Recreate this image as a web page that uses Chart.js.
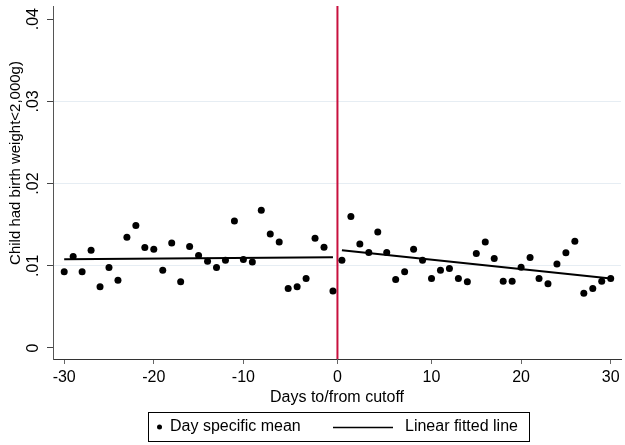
<!DOCTYPE html>
<html>
<head>
<meta charset="utf-8">
<script src="https://cdn.jsdelivr.net/npm/chart.js@4"></script>
<style>
  html, body { margin: 0; padding: 0; background: #fff; }
</style>
</head>
<body>
<canvas id="rd" width="625" height="445"></canvas>
<script>
/* birth weight around the cutoff — day means with linear fits on each side */

const daysBefore = [-30, -29, -28, -27, -26, -25, -24, -23, -22, -21, -20, -19, -18, -17, -16, -15,
  -14, -13, -12, -11, -10, -9, -8, -7, -6, -5, -4, -3, -2, -1, 0];
const meanBefore = [0.00926, 0.01113, 0.00926, 0.0119, 0.00744, 0.0098, 0.00825, 0.01347, 0.0149,
  0.01222, 0.0120, 0.00947, 0.01278, 0.00805, 0.01234, 0.01125, 0.01056, 0.0098, 0.01068, 0.01545,
  0.01076, 0.01047, 0.01675, 0.01387, 0.0129, 0.00724, 0.00744, 0.00846, 0.01335, 0.01226, 0.00693];

const daysAfter = [0, 1, 2, 3, 4, 5, 6, 7, 8, 9, 10, 11, 12, 13, 14, 15, 16, 17, 18, 19, 20,
  21, 22, 23, 24, 25, 26, 27, 28, 29, 30];
const meanAfter = [0.01068, 0.0160, 0.01265, 0.01161, 0.01411, 0.01161, 0.00834, 0.00926, 0.0120,
  0.01068, 0.00846, 0.00947, 0.00967, 0.00846, 0.00805, 0.01149, 0.0129, 0.01089, 0.00813, 0.00813,
  0.00983, 0.0110, 0.00846, 0.0078, 0.01023, 0.01157, 0.01299, 0.00667, 0.00724, 0.00813, 0.00846];

// fitted line end points, one segment per side
const fitDaysBefore = [-30, 0];
const fitBefore = [0.01078, 0.01104];
const fitDaysAfter = [0, 30];
const fitAfter = [0.0119, 0.00846];

const xTickDays = [-30, -20, -10, 0, 10, 20, 30];
const yTicks = [0, 0.01, 0.02, 0.03, 0.04];
const cutoffDay = 0;

const FONT = "'Liberation Sans', Arial, sans-serif";

// each side sits half a day off the cutoff
function pos(day, side) {
  return side < 0 ? day - 0.5 : day + 0.5;
}
function tickPos(day) {
  return day === 0 ? 0 : pos(day, Math.sign(day));
}
function yLabel(v) {
  return v === 0 ? '0' : v.toFixed(2).replace(/^0/, '');
}

const framePlugin = {
  id: 'frame',
  beforeDatasetsDraw(chart) {
    const ctx = chart.ctx;
    const area = chart.chartArea;
    const x = chart.scales.x.getPixelForValue(cutoffDay);
    ctx.save();
    ctx.strokeStyle = '#c8103e';
    ctx.lineWidth = 2;
    ctx.beginPath();
    ctx.moveTo(x, area.top);
    ctx.lineTo(x, area.bottom);
    ctx.stroke();
    ctx.restore();
  },
  afterDraw(chart) {
    const ctx = chart.ctx;
    const ys = chart.scales.y;
    ctx.save();
    ctx.fillStyle = '#000';
    ctx.font = '16px ' + FONT;
    ctx.textAlign = 'center';
    ctx.textBaseline = 'middle';

    // vertical y tick labels
    yTicks.forEach(function(v) {
      ctx.save();
      ctx.translate(34, ys.getPixelForValue(v));
      ctx.rotate(-Math.PI / 2);
      ctx.fillText(yLabel(v), 0, 0);
      ctx.restore();
    });

    // y axis title
    ctx.save();
    ctx.font = '15px ' + FONT;
    ctx.translate(16, 163);
    ctx.rotate(-Math.PI / 2);
    ctx.fillText('Child had birth weight<2,000g)', 0, 0);
    ctx.restore();

    // legend box
    ctx.strokeStyle = '#000';
    ctx.lineWidth = 1;
    ctx.strokeRect(148.5, 412.5, 381, 29);
    ctx.beginPath();
    ctx.arc(159.5, 427, 2.5, 0, Math.PI * 2);
    ctx.fill();
    ctx.textAlign = 'left';
    ctx.fillText('Day specific mean', 170, 427);
    ctx.lineWidth = 1.5;
    ctx.beginPath();
    ctx.moveTo(333, 427.5);
    ctx.lineTo(393, 427.5);
    ctx.stroke();
    ctx.fillText('Linear fitted line', 405, 427);
    ctx.restore();
  },
};

const meanStyle = {
  showLine: false,
  pointRadius: 3.5,
  pointBackgroundColor: '#000',
  pointBorderWidth: 0,
};
const fitStyle = {
  showLine: true,
  pointRadius: 0,
  borderColor: '#000',
  borderWidth: 2,
};

new Chart(document.getElementById('rd'), {
  type: 'scatter',
  data: {
    datasets: [
      Object.assign({
        label: 'Day specific mean',
        data: daysBefore.map(function(d, i) { return { x: pos(d, -1), y: meanBefore[i] }; }),
      }, meanStyle),
      Object.assign({
        label: 'Day specific mean',
        data: daysAfter.map(function(d, i) { return { x: pos(d, 1), y: meanAfter[i] }; }),
      }, meanStyle),
      Object.assign({
        label: 'Linear fitted line',
        data: fitDaysBefore.map(function(d, i) { return { x: pos(d, -1), y: fitBefore[i] }; }),
      }, fitStyle),
      Object.assign({
        label: 'Linear fitted line',
        data: fitDaysAfter.map(function(d, i) { return { x: pos(d, 1), y: fitAfter[i] }; }),
      }, fitStyle),
    ],
  },
  options: {
    responsive: false,
    animation: false,
    layout: { padding: { top: 6, right: 0, bottom: 38, left: 0 } },
    plugins: {
      legend: { display: false },
      tooltip: { enabled: false },
    },
    scales: {
      x: {
        type: 'linear',
        min: -31.75,
        max: 31.65,
        afterFit: function(s) { s.height = 48; },
        afterBuildTicks: function(s) {
          s.ticks = xTickDays.map(function(d) { return { value: tickPos(d) }; });
        },
        ticks: {
          autoSkip: false,
          maxRotation: 0,
          padding: 4,
          color: '#000',
          font: { family: FONT, size: 16 },
          callback: function(v, i) { return String(xTickDays[i]); },
        },
        grid: { drawOnChartArea: false, tickLength: 5, tickColor: '#666' },
        border: { color: '#333', width: 1 },
        title: {
          display: true,
          text: 'Days to/from cutoff',
          color: '#000',
          padding: 0,
          font: { family: FONT, size: 16 },
        },
      },
      y: {
        min: -0.00134,
        max: 0.0416,
        afterFit: function(s) { s.width = 53; },
        afterBuildTicks: function(s) {
          s.ticks = yTicks.map(function(v) { return { value: v }; });
        },
        ticks: { display: false },
        grid: {
          color: function(c) {
            return c.tick && c.tick.value > 0 && c.tick.value < 0.04 ? '#e6edf3' : 'rgba(0,0,0,0)';
          },
          tickLength: 6,
          tickColor: '#444',
        },
        border: { color: '#555', width: 1 },
      },
    },
  },
  plugins: [framePlugin],
});
</script>
</body>
</html>
